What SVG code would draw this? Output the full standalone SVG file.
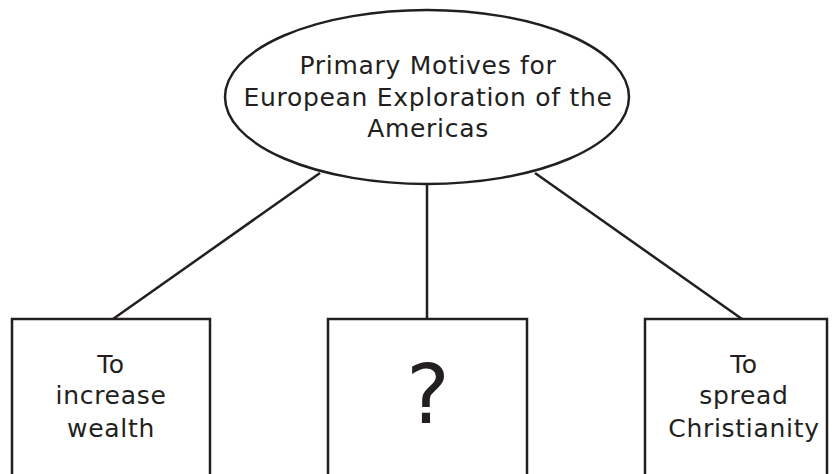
<svg xmlns="http://www.w3.org/2000/svg" width="835" height="474" viewBox="0 0 835 474">
<style>
.s{fill:#fff;stroke:#231f20;stroke-width:2.5}
.c{stroke:#231f20;stroke-width:2.5;fill:none}
.t{font-family:"DejaVu Sans",Verdana,sans-serif;font-size:25px;letter-spacing:0.7px;fill:#231f20;text-anchor:middle}
.q{font-family:"DejaVu Sans",Verdana,sans-serif;font-size:82px;fill:#231f20;text-anchor:middle}
</style>
<rect width="835" height="474" fill="#fff"/>
<g id="connectors">
<line class="c" x1="320" y1="173" x2="113" y2="319"/>
<line class="c" x1="427" y1="184" x2="427" y2="319"/>
<line class="c" x1="535" y1="173" x2="742" y2="319"/>
</g>
<g id="root">
<ellipse class="s" cx="427" cy="97" rx="202" ry="87"/>
<text class="t" x="428" y="74">Primary Motives for</text>
<text class="t" x="428" y="106">European Exploration of the</text>
<text class="t" x="428" y="137">Americas</text>
</g>
<g id="wealth">
<rect class="s" x="12" y="319" width="198" height="165"/>
<text class="t" x="111" y="373">To</text>
<text class="t" x="111" y="404">increase</text>
<text class="t" x="111" y="437">wealth</text>
</g>
<g id="unknown">
<rect class="s" x="328" y="319" width="199" height="165"/>
<text class="q" x="428" y="423">?</text>
</g>
<g id="christianity">
<rect class="s" x="645" y="319" width="182" height="165"/>
<text class="t" x="744" y="373">To</text>
<text class="t" x="744" y="404">spread</text>
<text class="t" x="744" y="437">Christianity</text>
</g>
</svg>
